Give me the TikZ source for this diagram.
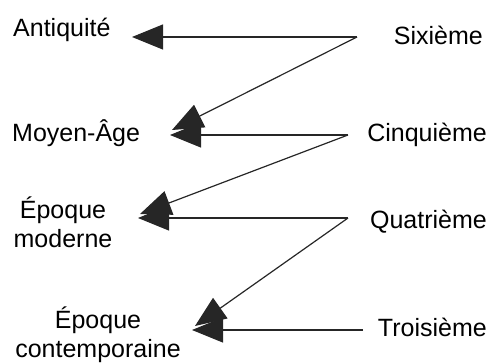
\documentclass[tikz,border=0pt]{standalone}
\usepackage{fontspec}
\setmainfont{Liberation Sans}
\usetikzlibrary{positioning, arrows.meta}

\begin{document}
\begin{tikzpicture}[
    x=1pt, y=-1pt,
    period/.style={inner sep=0pt, align=center, font=\fontsize{25}{29}\selectfont},
    grade/.style={inner sep=0pt, anchor=east, font=\fontsize{25}{29}\selectfont},
    link/.style={line width=1.2pt, black!85},
    arrow/.style={link, -{Triangle[length=31pt, width=25pt]}},
]
\useasboundingbox (0,0) rectangle (490,363);

% ============================================
% PERIODS (left)
% ============================================
\node[period, anchor=west] (anti) at (13,30) {Antiquité};
\node[period, anchor=west] (moyen) at (12,133) {Moyen-Âge};
\node[period] (moderne) at (63,222) {Époque\\moderne};
\node[period] (contemp) at (98,335) {Époque\\contemporaine};

% ============================================
% SCHOOL YEARS (right)
% ============================================
\node[grade] (six) at (483,35) {Sixième};
\node[grade] (cinq) at (487,135) {Cinquième};
\node[grade] (quat) at (487,222) {Quatrième};
\node[grade] (trois) at (487,327) {Troisième};

% ============================================
% JOINTS AND TIPS
% ============================================
\coordinate (j6) at (357,37);
\coordinate (j5) at (348,135);
\coordinate (j4) at (348,218);
\coordinate (j3) at (363,330);

\coordinate (antitip) at (132,37);
\coordinate (moyentip) at (170,135);
\coordinate (moyentipd) at (172,130);
\coordinate (modtip) at (138,218);
\coordinate (modtipd) at (140,214);
\coordinate (contip) at (192,330);
\coordinate (contipd) at (195,326);

% ============================================
% ARROWS
% ============================================
\draw[arrow] (j6) -- (antitip);
\draw[arrow] (j6) -- (moyentipd);
\draw[arrow] (j5) -- (moyentip);
\draw[arrow] (j5) -- (modtipd);
\draw[arrow] (j4) -- (modtip);
\draw[arrow] (j4) -- (contipd);
\draw[arrow] (j3) -- (contip);

\end{tikzpicture}
\end{document}
